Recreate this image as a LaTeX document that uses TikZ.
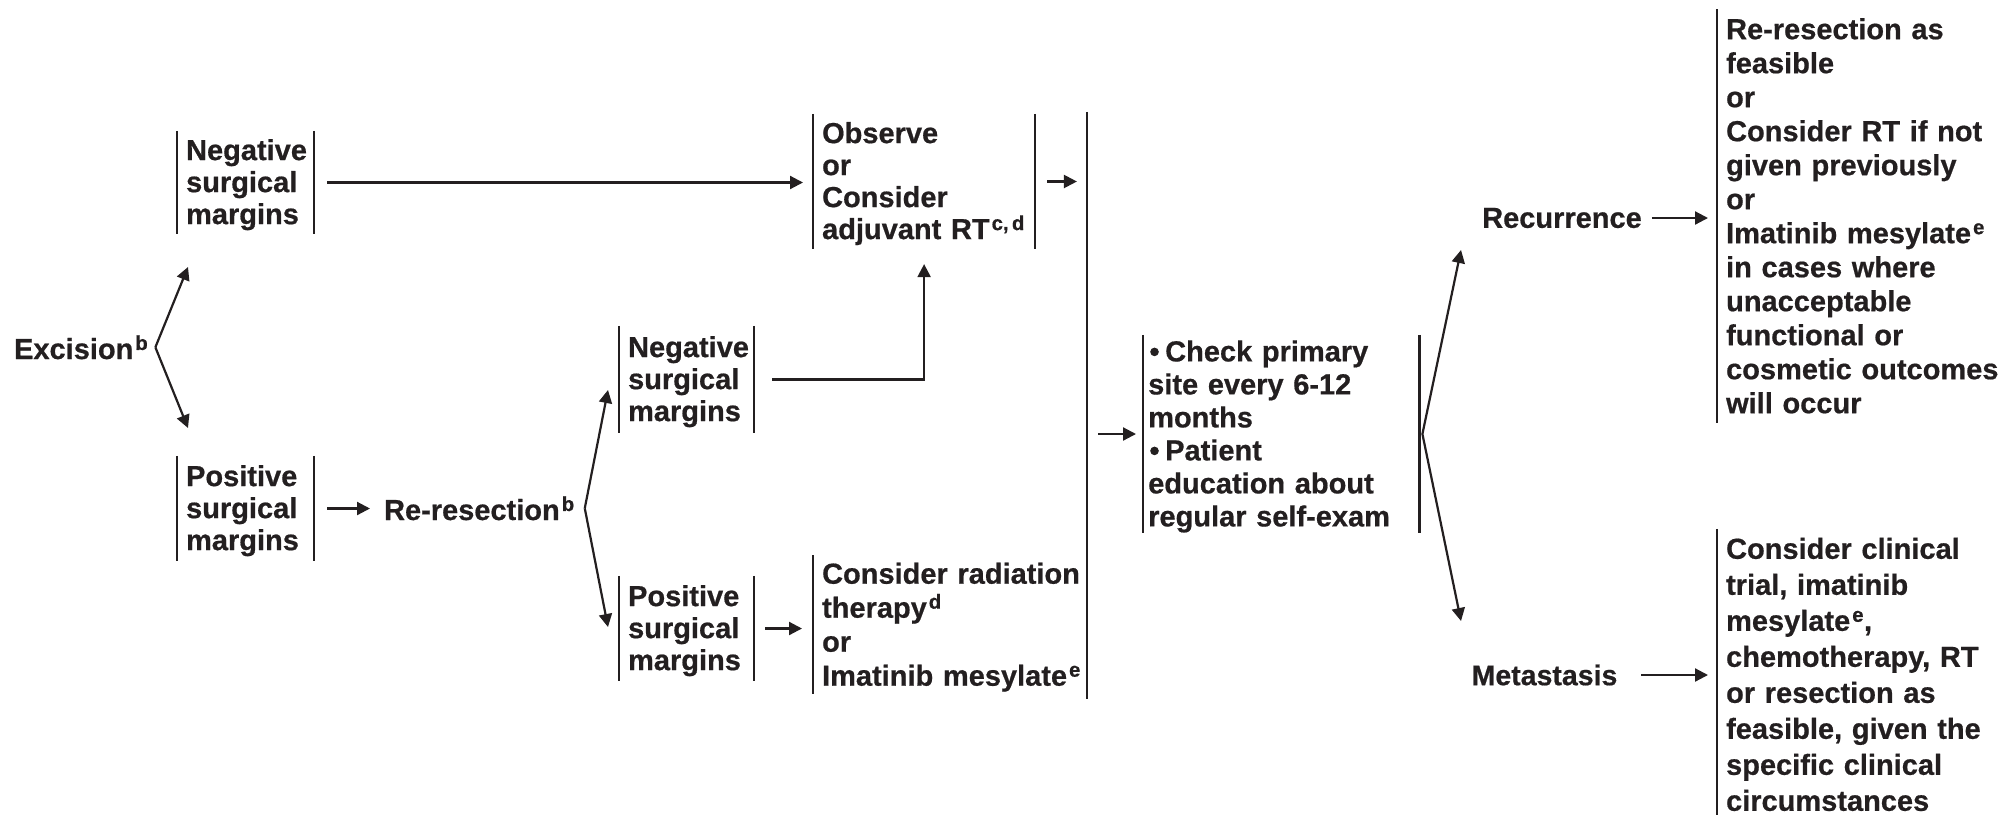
\documentclass[tikz,border=0pt]{standalone}
\usepackage{fontspec}
\setmainfont{Liberation Sans}[BoldFeatures={FakeBold=0.6}]
\usetikzlibrary{arrows.meta,positioning}
\definecolor{ink}{HTML}{231F20}
\newcommand{\lstrut}{\rule[-0.2\baselineskip]{0pt}{\baselineskip}}
\newcommand{\fnm}[1]{\kern2pt\textsuperscript{#1}}
\newcommand{\bulitem}{\makebox[17pt][l]{\hspace{2pt}\tikz[baseline=0pt,x=1pt,y=1pt]\fill[ink] (0,9.5) circle[radius=4.3pt];}}

\begin{document}
\begin{tikzpicture}[x=1pt,y=-1pt,>={Triangle[length=13pt,width=13pt]},
 line width=2.2pt,color=ink,
 lbl/.style={inner sep=0pt,font=\fontsize{29pt}{33pt}\selectfont\bfseries},
 brk/.style 2 args={anchor=west,inner xsep=8pt,inner ysep=0pt,align=left,
  font=\fontsize{#1}{#2}\selectfont\bfseries,
  execute at begin node=\lstrut,execute at end node=\lstrut},
 bar/.style={line width=2.4pt}]
 \useasboundingbox (0,0) rectangle (1999,814);
 \node[lbl,anchor=base west] (exc) at (13,359) {Excision\fnm{b}};
 \node[brk={29pt}{32pt},text width=119pt,minimum height=101pt] (neg1) at (177,182.5) {Negative\\surgical\\margins};
 \node[brk={29pt}{32pt},text width=119pt,minimum height=103pt] (pos1) at (177,508.5) {Positive\\surgical\\margins};
 \node[lbl,anchor=base west] (rer) at (383,520) {Re-resection\fnm{b}};
 \node[brk={29pt}{32pt},text width=117pt,minimum height=105pt] (neg2) at (619,379.5) {Negative\\surgical\\margins};
 \node[brk={29pt}{32pt},text width=117pt,minimum height=103pt] (pos2) at (619,628.5) {Positive\\surgical\\margins};
 \node[brk={29pt}{32pt},text width=204pt,minimum height=133pt] (obs) at (813,181.5) {Observe\\or\\Consider\\adjuvant RT\fnm{c,\,d}};
 \node[brk={29pt}{34pt},text width=290pt,minimum height=135pt] (rad) at (813,624.5) {Consider radiation\\therapy\fnm{d}\\or\\Imatinib mesylate\fnm{e}};
 \node[inner sep=0pt,minimum width=0pt,minimum height=585pt] (merge) at (1087,405.5) {};
 \node[brk={29pt}{33pt},inner xsep=5pt,text width=266pt,minimum height=198pt] (chk) at (1143,434)
  {\bulitem Check primary\\site every 6-12\\months\\\bulitem Patient\\education about\\regular self-exam};
 \node[lbl] (rec) at (1562,218) {Recurrence};
 \node[lbl,font=\fontsize{28.5pt}{32pt}\selectfont\bfseries] (met) at (1544.5,675) {Metastasis};
 \node[brk={29pt}{34pt},text width=290pt,minimum height=411pt] (recbox) at (1717,216)
  {Re-resection as\\feasible\\or\\Consider RT if not\\given previously\\or\\Imatinib mesylate\fnm{e}\\in cases where\\unacceptable\\functional or\\cosmetic outcomes\\will occur};
 \node[brk={29pt}{36pt},text width=290pt] (metbox) at (1717,674)
  {Consider clinical\\trial, imatinib\\mesylate\fnm{e},\\chemotherapy, RT\\or resection as\\feasible, given the\\specific clinical\\circumstances};

 \foreach \n in {neg1,pos1,neg2,pos2,obs,chk}
  \draw[bar] (\n.north west)--(\n.south west) (\n.north east)--(\n.south east);
 \foreach \n in {rad,recbox,metbox}
  \draw[bar] (\n.north west)--(\n.south west);
 \draw[bar] (merge.north)--(merge.south);

 \coordinate (excJ) at ([xshift=6pt]exc.east);
 \coordinate (negA) at (188,267);
 \coordinate (posA) at (188,428);
 \coordinate (rerJ) at ([xshift=9pt]rer.east);
 \coordinate (neg2A) at (608,390);
 \coordinate (pos2A) at (608,627);
 \coordinate (chkJ) at ([xshift=3pt]chk.east);
 \coordinate (recA) at (1461,250);
 \coordinate (metA) at (1461,621);

 \draw[->] (excJ)--(negA);
 \draw[->] (excJ)--(posA);
 \draw[->] (rerJ)--(neg2A);
 \draw[->] (rerJ)--(pos2A);
 \draw[->] (chkJ)--(recA);
 \draw[->] (chkJ)--(metA);
 \draw[->,shorten <=13pt,shorten >=10pt] (neg1.east)--(neg1.east-|obs.west);
 \draw[->,shorten <=13pt,shorten >=13pt] (pos1.east)--(pos1.east-|rer.west);
 \draw[->,shorten <=18pt,shorten >=15pt] (neg2.east)-|(obs.south);
 \draw[->,shorten <=11pt,shorten >=11pt] (pos2.east)--(pos2.east-|rad.west);
 \draw[->,shorten <=12pt,shorten >=9pt] (obs.east)--(obs.east-|merge.west);
 \draw[->,shorten <=10pt,shorten >=7pt] (chk.west-|merge.east)--(chk.west);
 \draw[->,shorten <=9pt,shorten >=9pt] (rec.east)--(rec.east-|recbox.west);
 \draw[->,shorten <=23pt,shorten >=9pt] (met.east)--(met.east-|metbox.west);
\end{tikzpicture}
\end{document}
